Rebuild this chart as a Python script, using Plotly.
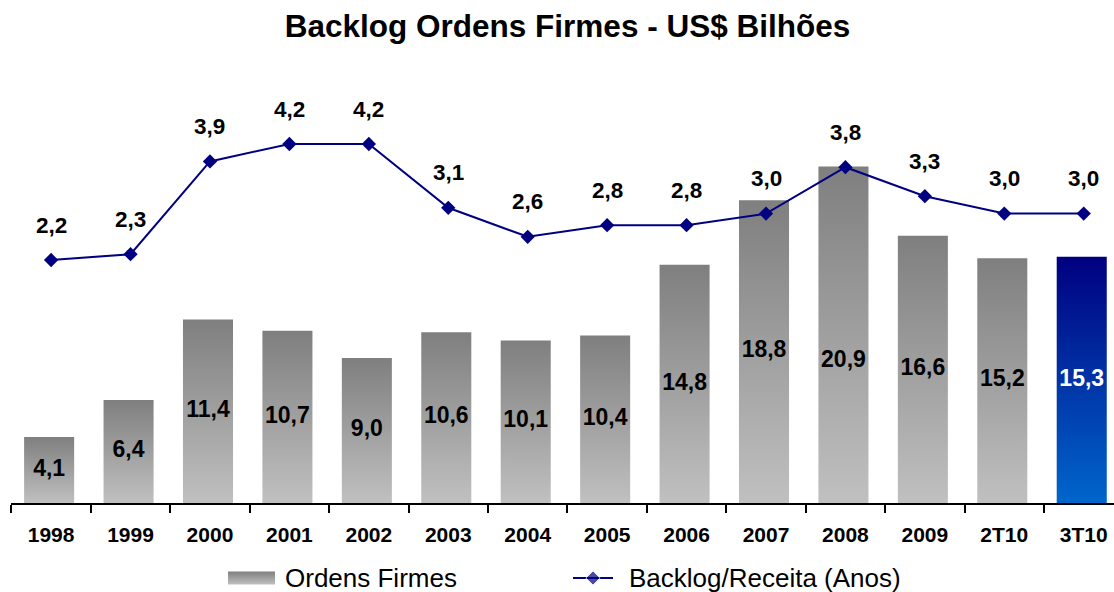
import plotly.graph_objects as go

# ---- data ----
categories = ["1998", "1999", "2000", "2001", "2002", "2003", "2004", "2005",
              "2006", "2007", "2008", "2009", "2T10", "3T10"]
ordens_firmes = [4.1, 6.4, 11.4, 10.7, 9.0, 10.6, 10.1, 10.4, 14.8, 18.8, 20.9, 16.6, 15.2, 15.3]
backlog_receita = [2.2, 2.3, 3.9, 4.2, 4.2, 3.1, 2.6, 2.8, 2.8, 3.0, 3.8, 3.3, 3.0, 3.0]
highlight_category = "3T10"

title_text = "Backlog Ordens Firmes - US$ Bilhões"
bar_name = "Ordens Firmes"
line_name = "Backlog/Receita (Anos)"

# ---- style ----
FONT = "Liberation Sans, Arial, sans-serif"
GRAY_TOP, GRAY_BOTTOM = "#7f7f7f", "#c0c0c0"
BLUE_TOP, BLUE_BOTTOM = "#000080", "#0066cc"
LINE_COLOR = "#000080"
BAR_W = 0.63
BAR_OFFSET = -0.025
label_override = {"2008": 8.8}  # label nudged in the original


def fmt(v):
    return f"{v:.1f}".replace(".", ",")


fig = go.Figure()
idx = list(range(len(categories)))

# bars drawn as gradient-filled shapes on the numeric x axis
for i, (cat, v) in enumerate(zip(categories, ordens_firmes)):
    top, bot = (BLUE_TOP, BLUE_BOTTOM) if cat == highlight_category else (GRAY_TOP, GRAY_BOTTOM)
    c = i + BAR_OFFSET
    fig.add_trace(go.Scatter(
        x=[c - BAR_W / 2, c + BAR_W / 2, c + BAR_W / 2, c - BAR_W / 2, c - BAR_W / 2],
        y=[0, 0, v, v, 0],
        mode="lines", fill="toself",
        fillgradient=dict(type="vertical", colorscale=[[0, bot], [1, top]]),
        line=dict(width=0, color="rgba(0,0,0,0)"),
        showlegend=False, hoverinfo="skip", name=bar_name,
        xaxis="x", yaxis="y",
    ))

# bar value labels
fig.add_trace(go.Scatter(
    x=[i + BAR_OFFSET for i in idx],
    y=[label_override.get(c, v / 2) for c, v in zip(categories, ordens_firmes)],
    mode="text",
    text=[fmt(v) for v in ordens_firmes],
    textposition="middle center",
    textfont=dict(family=FONT, size=23, weight="bold",
                  color=["white" if c == highlight_category else "black" for c in categories]),
    showlegend=False, hoverinfo="skip", xaxis="x", yaxis="y",
))

# line
fig.add_trace(go.Scatter(
    x=idx, y=backlog_receita, mode="lines+markers", name=line_name,
    line=dict(color=LINE_COLOR, width=2),
    marker=dict(symbol="diamond", size=11, color=LINE_COLOR),
    showlegend=False, xaxis="x", yaxis="y2",
))

annotations = []
for i, v in enumerate(backlog_receita):
    annotations.append(dict(
        x=i, y=v, xref="x", yref="y2", text=fmt(v), showarrow=False,
        yshift=35, font=dict(family=FONT, size=22.5, color="black", weight="bold"),
    ))

# ---- custom legend (own small subplot, pixel-like coordinates) ----
leg_y = 14
fig.add_trace(go.Scatter(
    x=[228, 275, 275, 228, 228], y=[7.5, 7.5, 20.5, 20.5, 7.5],
    mode="lines", fill="toself",
    fillgradient=dict(type="vertical", colorscale=[[0, GRAY_BOTTOM], [1, GRAY_TOP]]),
    line=dict(width=0, color="rgba(0,0,0,0)"),
    showlegend=False, hoverinfo="skip", xaxis="x3", yaxis="y3",
))
fig.add_trace(go.Scatter(
    x=[573, 593, 613], y=[leg_y, leg_y, leg_y], mode="lines+markers",
    line=dict(color=LINE_COLOR, width=2),
    marker=dict(symbol="diamond", size=[0, 11, 0], color=LINE_COLOR),
    showlegend=False, hoverinfo="skip", xaxis="x3", yaxis="y3",
))
for xx, t in [(283, bar_name), (627, line_name)]:
    annotations.append(dict(
        x=xx, y=leg_y, xref="x3", yref="y3", text=t, showarrow=False,
        xanchor="left", yanchor="middle",
        font=dict(family=FONT, size=26, color="black"),
    ))

W, H = 1114, 592
mt, mb, ml, mr = 60, 0, 11, 0
ph = H - mt - mb
plot_bottom_px = 503
dom0 = (H - plot_bottom_px) / ph
plot_h = plot_bottom_px - mt
cat_w = 79.46
right_val = -0.5 + (W - ml - mr) / cat_w

fig.update_layout(
    width=W, height=H,
    margin=dict(l=ml, r=mr, t=mt, b=mb),
    paper_bgcolor="white", plot_bgcolor="white",
    title=dict(text=title_text, x=567.5 / W, xanchor="center", xref="container",
               y=1 - 26 / H, yanchor="middle", yref="container",
               font=dict(family=FONT, size=31.5, color="black", weight="bold")),
    showlegend=False,
    annotations=annotations,
    xaxis=dict(
        range=[-0.505, right_val], tickvals=idx, ticktext=categories,
        ticks="", showgrid=False, zeroline=False,
        showline=True, linecolor="black", linewidth=2,
        tickfont=dict(family=FONT, size=21, color="black", weight="bold"),
        ticklabelstandoff=12,
        minor=dict(tick0=-0.5, dtick=1, ticks="outside", ticklen=8,
                   tickcolor="black", tickwidth=2, showgrid=False),
        fixedrange=True,
    ),
    yaxis=dict(domain=[dom0, 1], range=[0, plot_h / 16.1], visible=False, fixedrange=True),
    yaxis2=dict(domain=[dom0, 1], overlaying="y", anchor="x",
                range=[(387.6 - plot_bottom_px) / 58, (387.6 - mt) / 58],
                visible=False, fixedrange=True),
    xaxis3=dict(domain=[0, 1], range=[ml, W - mr], visible=False, anchor="y3", fixedrange=True),
    yaxis3=dict(domain=[0, 0.1], range=[0, 0.1 * ph], visible=False, anchor="x3", fixedrange=True),
)

fig.write_html(
    "out.html",
    config={"displayModeBar": False},
    post_script="document.body.style.margin='0px';document.body.style.overflow='hidden';",
)
